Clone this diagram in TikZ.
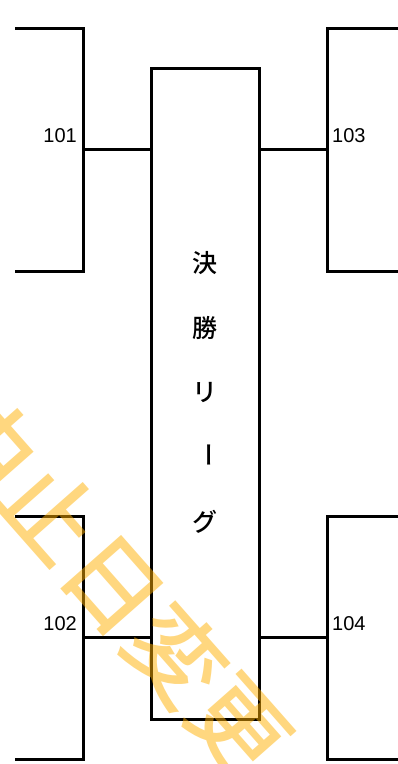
\documentclass[tikz,border=0pt]{standalone}
\usepackage{fontspec}
\setmainfont{Liberation Sans}
\newfontfamily\jpfont{Noto Sans CJK JP Medium}
\newfontfamily\wmfont{Noto Sans CJK JP Medium}
\definecolor{wmcol}{RGB}{255,175,0}
\begin{document}
\begin{tikzpicture}[x=1pt,y=-1pt,
  line/.style={line width=3pt,line cap=butt},
  num/.style={font=\fontsize{20}{20}\selectfont,inner sep=0pt},
  jp/.style={font=\jpfont\fontsize{25}{25}\selectfont,inner sep=0pt},
  wm/.style={font=\wmfont\fontsize{95}{95}\selectfont,text=wmcol,text opacity=0.5,inner sep=0pt}]
\useasboundingbox (0,0) rectangle (398,764);
% central box
\node[draw,line width=3pt,minimum width=108pt,minimum height=651pt,inner sep=0pt] (final) at (205,393.5) {};
\node[jp] (c1) at (205,263) {決};
\node[jp] (c2) at (205,328) {勝};
\node[jp] (c3) at (205,393) {リ};
\node[jp,rotate=-90] (c4) at (205,455) {ー};
\node[jp] (c5) at (205,522) {グ};
% bracket coordinates
\coordinate (a1) at (15,28); \coordinate (a2) at (83,28); \coordinate (a3) at (83,271); \coordinate (a4) at (15,271);
\coordinate (am) at (83,149);
\coordinate (b1) at (15,516); \coordinate (b2) at (83,516); \coordinate (b3) at (83,759); \coordinate (b4) at (15,759);
\coordinate (bm) at (83,637);
\coordinate (r1) at (399,28); \coordinate (r2) at (327,28); \coordinate (r3) at (327,271); \coordinate (r4) at (399,271);
\coordinate (rm) at (327,149);
\coordinate (s1) at (399,516); \coordinate (s2) at (327,516); \coordinate (s3) at (327,759); \coordinate (s4) at (399,759);
\coordinate (sm) at (327,637);
\draw[line] (a1) -- (a2) -- (a3) -- (a4);
\draw[line] (b1) -- (b2) -- (b3) -- (b4);
\draw[line] (r1) -- (r2) -- (r3) -- (r4);
\draw[line] (s1) -- (s2) -- (s3) -- (s4);
\draw[line] (am) -- (am -| final.west);
\draw[line] (bm) -- (bm -| final.west);
\draw[line] (rm) -- (rm -| final.east);
\draw[line] (sm) -- (sm -| final.east);
% labels
\node[num,anchor=east] (l101) at (77,136) {101};
\node[num,anchor=east] (l102) at (77,624) {102};
\node[num,anchor=west] (l103) at (332,136) {103};
\node[num,anchor=west] (l104) at (332,624) {104};
% watermark
\node[wm,rotate=-48.6] (wmark) at (114,584) {中止日変更};
\end{tikzpicture}
\end{document}
